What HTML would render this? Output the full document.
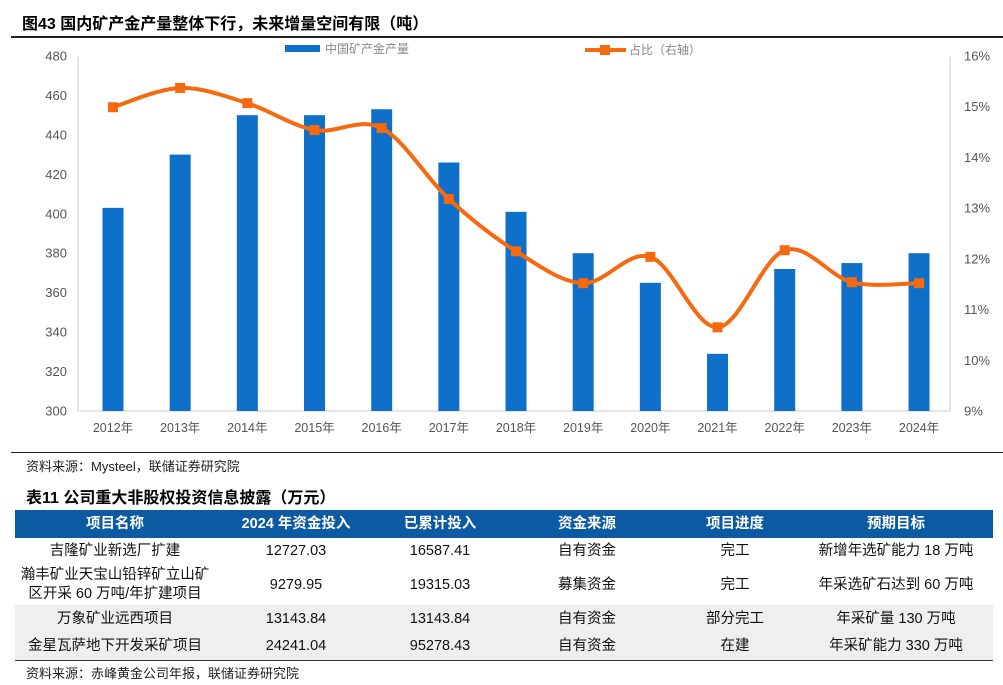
<!DOCTYPE html>
<html><head><meta charset="utf-8">
<style>
body{margin:0;width:1003px;height:685px;background:#fff;font-family:"Liberation Sans","Noto Sans CJK SC",sans-serif;position:relative;overflow:hidden}
.abs{position:absolute}
table{border-collapse:collapse;position:absolute;left:15px;top:510px;width:978px;font-size:14.5px;color:#111;table-layout:fixed}
td,th{text-align:center;padding:0;line-height:19px}
th{background:#0b5aa2;color:#fff;font-weight:bold;height:28px;font-size:14.5px}
.g td{background:#efefef}
</style></head><body>
<div class="abs" style="left:22px;top:10px;font-size:16px;font-weight:bold">图43 国内矿产金产量整体下行，未来增量空间有限（吨）</div>
<div class="abs" style="left:11px;top:36px;width:992px;height:1.5px;background:#222"></div>
<svg class="abs" style="left:0;top:0" width="1003" height="455">
<g id="g"></g>
</svg>
<div class="abs" style="left:11px;top:452px;width:992px;height:1px;background:#222"></div>
<div class="abs" style="left:26px;top:456px;font-size:13px;color:#222">资料来源：Mysteel，联储证券研究院</div>
<div class="abs" style="left:26px;top:484px;font-size:16px;font-weight:bold">表11 公司重大非股权投资信息披露（万元）</div>
<table>
<colgroup><col style="width:200px"><col style="width:162px"><col style="width:126px"><col style="width:168px"><col style="width:128px"><col style="width:194px"></colgroup>
<tr><th>项目名称</th><th>2024 年资金投入</th><th>已累计投入</th><th>资金来源</th><th>项目进度</th><th>预期目标</th></tr>
<tr style="height:27px"><td>吉隆矿业新选厂扩建</td><td>12727.03</td><td>16587.41</td><td>自有资金</td><td>完工</td><td>新增年选矿能力 18 万吨</td></tr>
<tr style="height:40px"><td>瀚丰矿业天宝山铅锌矿立山矿<br>区开采 60 万吨/年扩建项目</td><td>9279.95</td><td>19315.03</td><td>募集资金</td><td>完工</td><td>年采选矿石达到 60 万吨</td></tr>
<tr class="g" style="height:28px"><td>万象矿业远西项目</td><td>13143.84</td><td>13143.84</td><td>自有资金</td><td>部分完工</td><td>年采矿量 130 万吨</td></tr>
<tr class="g" style="height:27px;border-bottom:1px solid #333"><td>金星瓦萨地下开发采矿项目</td><td>24241.04</td><td>95278.43</td><td>自有资金</td><td>在建</td><td>年采矿能力 330 万吨</td></tr>
</table>
<div class="abs" style="left:26px;top:663px;font-size:13px;color:#222">资料来源：赤峰黄金公司年报，联储证券研究院</div>
<script>
const years=["2012年","2013年","2014年","2015年","2016年","2017年","2018年","2019年","2020年","2021年","2022年","2023年","2024年"];
const production=[403,430,450,450,453,426,401,380,365,329,372,375,380];
const share=[14.99,15.37,15.07,14.54,14.58,13.18,12.15,11.52,12.04,10.65,12.17,11.54,11.52];
const leftTicks=[300,320,340,360,380,400,420,440,460,480];
const rightTicks=["9%","10%","11%","12%","13%","14%","15%","16%"];
const ns="http://www.w3.org/2000/svg",g=document.getElementById('g');
const yL=v=>411-(v-300)*355/180, yR=v=>411-(v-9)*355/7, xC=i=>113+i*67.17;
function mk(t,a,txt){const e=document.createElementNS(ns,t);for(const k in a)e.setAttribute(k,a[k]);if(txt!=null)e.textContent=txt;g.appendChild(e);return e;}
leftTicks.forEach(v=>{const e=mk('text',{x:67,y:yL(v)+4.5,'text-anchor':'end','font-size':13,fill:'#555'},v);

});
rightTicks.forEach((s,i)=>{const e=mk('text',{x:964,y:yR(9+i)+4.5,'font-size':13,fill:'#555'},s);

});
mk('line',{x1:78,y1:57,x2:78,y2:411,stroke:'#ccc'});
mk('line',{x1:950,y1:57,x2:950,y2:411,stroke:'#ccc'});
mk('line',{x1:78,y1:411,x2:950,y2:411,stroke:'#ccc'});
production.forEach((v,i)=>{const r=mk('rect',{x:xC(i)-10.5,y:yL(v),width:21,height:411-yL(v),fill:'#0f70c9'});


const t=mk('text',{x:xC(i),y:432,'text-anchor':'middle','font-size':12.5,fill:'#555'},years[i]);

});
const P=share.map((v,i)=>[xC(i),yR(v)]);
let d='M'+P[0];
for(let i=0;i<P.length-1;i++){const p0=P[Math.max(i-1,0)],p1=P[i],p2=P[i+1],p3=P[Math.min(i+2,P.length-1)];
d+=' C'+(p1[0]+(p2[0]-p0[0])/6)+','+(p1[1]+(p2[1]-p0[1])/6)+' '+(p2[0]-(p3[0]-p1[0])/6)+','+(p2[1]-(p3[1]-p1[1])/6)+' '+p2;}
const ln=mk('path',{d:d,fill:'none',stroke:'#f7690f','stroke-width':4});


P.forEach(p=>{const m=mk('rect',{x:p[0]-5,y:p[1]-5,width:10,height:10,fill:'#f7690f'});

});
const l1=mk('rect',{x:285,y:45,width:35,height:7,fill:'#0f70c9'});


mk('text',{x:325,y:53,'font-size':12,fill:'#888'},'中国矿产金产量');
const l2=mk('line',{x1:585,y1:50,x2:626,y2:50,stroke:'#f7690f','stroke-width':4});


mk('rect',{x:600,y:45,width:10,height:10,fill:'#f7690f'});
mk('text',{x:629,y:54,'font-size':12,fill:'#888'},'占比（右轴）');
</script>
</body></html>
